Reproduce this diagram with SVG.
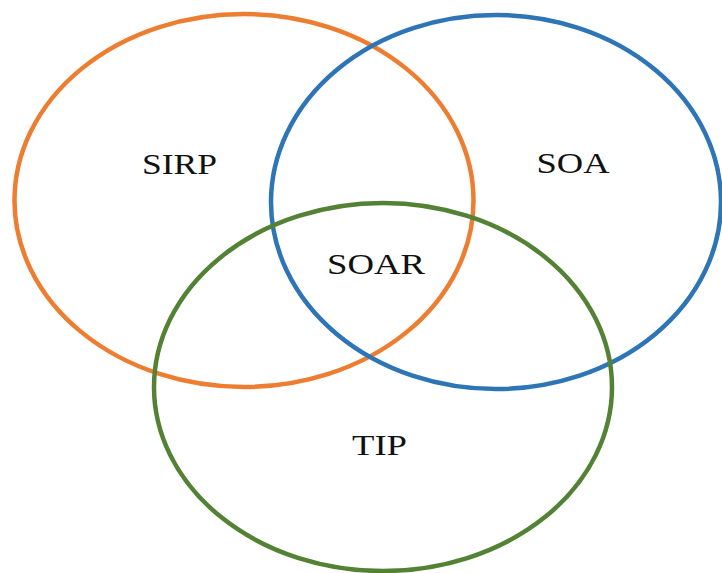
<svg xmlns="http://www.w3.org/2000/svg" width="722" height="573" viewBox="0 0 722 573">
  <style>
    .set { fill: none; stroke-width: 4.5; }
    .label { font-family: "Liberation Serif", "Times New Roman", serif; font-size: 30px; fill: #111; text-anchor: middle; }
  </style>
  <rect width="722" height="573" fill="#ffffff"/>
  <g id="sirp">
    <ellipse class="set" cx="244" cy="200.5" rx="229.5" ry="186.5" stroke="#ED7D31"/>
    <text class="label" x="179.5" y="174" textLength="75" lengthAdjust="spacingAndGlyphs">SIRP</text>
  </g>
  <g id="soa">
    <ellipse class="set" cx="496" cy="202" rx="225" ry="187" stroke="#2E75B6"/>
    <text class="label" x="573" y="173" textLength="73" lengthAdjust="spacingAndGlyphs">SOA</text>
  </g>
  <g id="tip">
    <ellipse class="set" cx="383" cy="387" rx="229" ry="184" stroke="#548235"/>
    <text class="label" x="379.5" y="455" textLength="55" lengthAdjust="spacingAndGlyphs">TIP</text>
  </g>
  <g id="soar">
    <text class="label" x="376" y="274" textLength="98" lengthAdjust="spacingAndGlyphs">SOAR</text>
  </g>
  <g id="connectors"></g>
</svg>
